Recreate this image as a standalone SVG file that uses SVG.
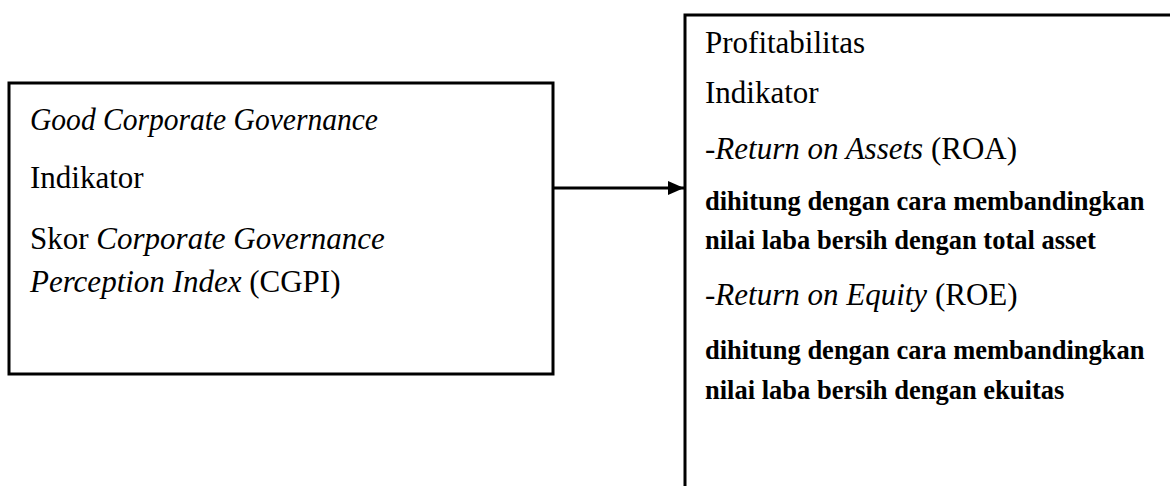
<svg xmlns="http://www.w3.org/2000/svg" width="1170" height="486" viewBox="0 0 1170 486">
<style>
.box{fill:#fff;stroke:#000;stroke-width:3}
.t{font-family:"Liberation Serif","Times New Roman",serif;font-size:31px;fill:#000}
.b{font-family:"Liberation Serif","Times New Roman",serif;font-size:26.5px;font-weight:bold;fill:#000}
.i{font-style:italic}
</style>
<defs>
<marker id="ah" markerWidth="16" markerHeight="14" refX="16" refY="7" orient="auto" markerUnits="userSpaceOnUse">
<path d="M0,0 L16,7 L0,14 Z" fill="#000"/>
</marker>
</defs>
<rect width="1170" height="486" fill="#fff"/>
<g id="connectors">
<line x1="553" y1="188" x2="684" y2="188" stroke="#000" stroke-width="3" marker-end="url(#ah)"/>
</g>
<g id="node-gcg">
<rect class="box" x="9" y="83" width="544" height="291"/>
<text class="t i" x="30" y="130" textLength="348" lengthAdjust="spacingAndGlyphs">Good Corporate Governance</text>
<text class="t" x="30" y="188">Indikator</text>
<text class="t" x="30" y="249">Skor <tspan class="i">Corporate Governance</tspan></text>
<text class="t" x="30" y="292"><tspan class="i">Perception Index</tspan> (CGPI)</text>
</g>
<g id="node-profit">
<path d="M1172,15 L685,15 L685,488" fill="none" stroke="#000" stroke-width="3"/>
<text class="t" x="705" y="53">Profitabilitas</text>
<text class="t" x="705" y="103">Indikator</text>
<text class="t" x="705" y="159"><tspan class="i">-Return on Assets</tspan> (ROA)</text>
<text class="b" x="705" y="210">dihitung dengan cara membandingkan</text>
<text class="b" x="705" y="249">nilai laba bersih dengan total asset</text>
<text class="t" x="705" y="305"><tspan class="i">-Return on Equity</tspan> (ROE)</text>
<text class="b" x="705" y="359">dihitung dengan cara membandingkan</text>
<text class="b" x="705" y="399">nilai laba bersih dengan ekuitas</text>
</g>
</svg>
